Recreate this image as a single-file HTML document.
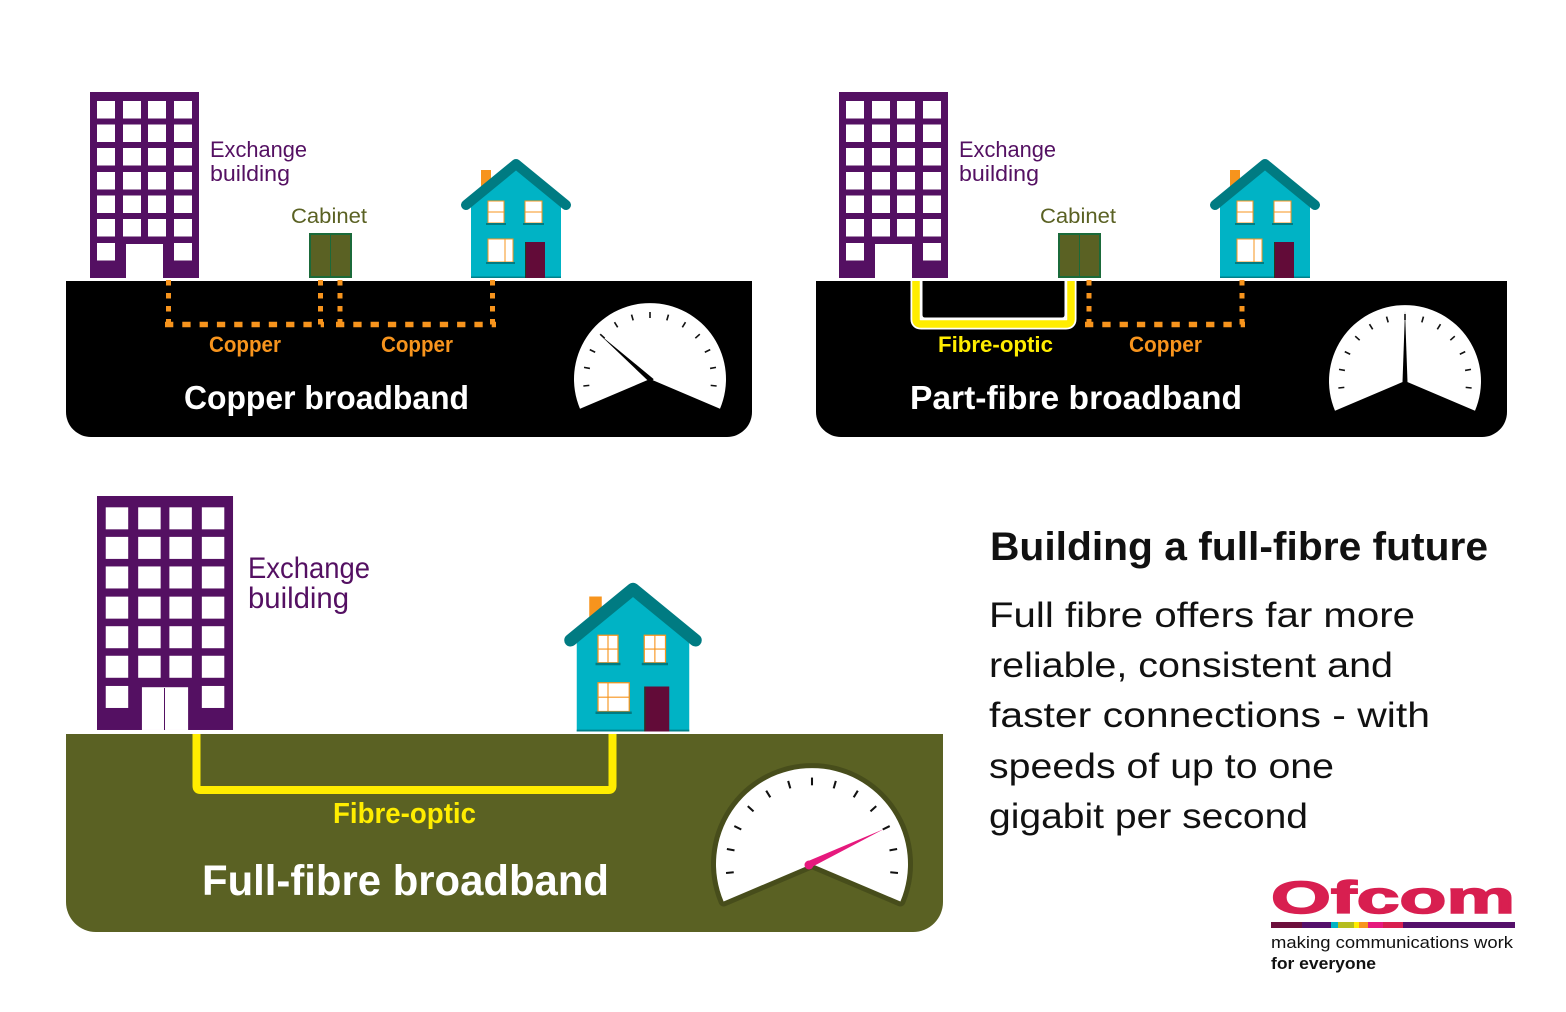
<!DOCTYPE html>
<html><head><meta charset="utf-8"><style>
html,body{margin:0;padding:0;background:#fff;}
svg{display:block;}
text{font-family:"Liberation Sans",sans-serif;}
</style></head><body>
<svg width="1566" height="1012" viewBox="0 0 1566 1012" xmlns="http://www.w3.org/2000/svg">
<rect width="1566" height="1012" fill="#fff"/>
<defs>
 <g id="bld">
  <rect x="0" y="0" width="109" height="186" fill="#541062"/>
  <g fill="#fff">
   <rect x="7" y="9" width="18" height="17.5"/><rect x="33" y="9" width="18" height="17.5"/><rect x="58" y="9" width="18" height="17.5"/><rect x="84" y="9" width="18" height="17.5"/>
   <rect x="7" y="32.5" width="18" height="17.5"/><rect x="33" y="32.5" width="18" height="17.5"/><rect x="58" y="32.5" width="18" height="17.5"/><rect x="84" y="32.5" width="18" height="17.5"/>
   <rect x="7" y="56" width="18" height="17.5"/><rect x="33" y="56" width="18" height="17.5"/><rect x="58" y="56" width="18" height="17.5"/><rect x="84" y="56" width="18" height="17.5"/>
   <rect x="7" y="80" width="18" height="17.5"/><rect x="33" y="80" width="18" height="17.5"/><rect x="58" y="80" width="18" height="17.5"/><rect x="84" y="80" width="18" height="17.5"/>
   <rect x="7" y="103.5" width="18" height="17.5"/><rect x="33" y="103.5" width="18" height="17.5"/><rect x="58" y="103.5" width="18" height="17.5"/><rect x="84" y="103.5" width="18" height="17.5"/>
   <rect x="7" y="127" width="18" height="17.5"/><rect x="33" y="127" width="18" height="17.5"/><rect x="58" y="127" width="18" height="17.5"/><rect x="84" y="127" width="18" height="17.5"/>
   <rect x="7" y="151" width="18" height="17.5"/><rect x="84" y="151" width="18" height="17.5"/>
   <rect x="36" y="152" width="37" height="34"/>
  </g>
 </g>
 <g id="house">
  <rect x="-35" y="10" width="10" height="25" fill="#f7941d"/>
  <polygon points="0,5 -45,41 -45,118 45,118 45,41" fill="#00b3c5"/>
  <polyline points="-50,45 0,4 50,45" fill="none" stroke="#007b82" stroke-width="10" stroke-linecap="round" stroke-linejoin="round"/>
  <rect x="-45" y="116.5" width="90" height="1.5" fill="#00808a"/>
  <rect x="-28" y="41" width="16" height="22" fill="#fff" stroke="#f7941d" stroke-width="1"/>
  <rect x="9" y="41" width="17" height="22" fill="#fff" stroke="#f7941d" stroke-width="1"/>
  <rect x="-30" y="63" width="20" height="2" fill="#007b82"/>
  <rect x="7" y="63" width="21" height="2" fill="#007b82"/>
  <rect x="-28" y="79" width="25" height="23" fill="#fff" stroke="#f7941d" stroke-width="1"/>
  <rect x="-30" y="102" width="29" height="2" fill="#007b82"/>
  <rect x="9" y="82" width="20" height="36" fill="#620b38"/>
  <rect x="9" y="82" width="1" height="36" fill="#2a3a20"/>
 </g>
 <g id="ticks" stroke="#111" stroke-width="1.6">
  <line x1="61" y1="0" x2="67" y2="0" transform="rotate(6)"/>
  <line x1="61" y1="0" x2="67" y2="0" transform="rotate(-10)"/>
  <line x1="61" y1="0" x2="67" y2="0" transform="rotate(-26)"/>
  <line x1="61" y1="0" x2="67" y2="0" transform="rotate(-42)"/>
  <line x1="61" y1="0" x2="67" y2="0" transform="rotate(-58)"/>
  <line x1="61" y1="0" x2="67" y2="0" transform="rotate(-74)"/>
  <line x1="61" y1="0" x2="67" y2="0" transform="rotate(-90)"/>
  <line x1="61" y1="0" x2="67" y2="0" transform="rotate(-106)"/>
  <line x1="61" y1="0" x2="67" y2="0" transform="rotate(-122)"/>
  <line x1="61" y1="0" x2="67" y2="0" transform="rotate(-138)"/>
  <line x1="61" y1="0" x2="67" y2="0" transform="rotate(-154)"/>
  <line x1="61" y1="0" x2="67" y2="0" transform="rotate(-170)"/>
  <line x1="61" y1="0" x2="67" y2="0" transform="rotate(-186)"/>
 </g>
</defs>

<path d="M66,281 H752 V412 A25 25 0 0 1 727 437 H91 A25 25 0 0 1 66 412 Z" fill="#000"/>
<use href="#bld" transform="translate(90,92)"/>
<text x="210" y="157" font-size="22" fill="#541062" textLength="97" lengthAdjust="spacingAndGlyphs">Exchange</text>
<text x="210" y="181" font-size="22" fill="#541062" textLength="80" lengthAdjust="spacingAndGlyphs">building</text>
<text x="291" y="223" font-size="21" fill="#5a6123" textLength="76" lengthAdjust="spacingAndGlyphs">Cabinet</text>
<rect x="310" y="234" width="41" height="43" fill="#5a6123" stroke="#1b6a3a" stroke-width="2"/>
<line x1="330.5" y1="234" x2="330.5" y2="277" stroke="#1b6a3a" stroke-width="1"/>
<use href="#house" transform="translate(516,160)"/>
<g stroke="#f7941d" stroke-width="1">
 <line x1="-28" y1="52" x2="-12" y2="52" transform="translate(516,160)"/>
 <line x1="9" y1="52" x2="26" y2="52" transform="translate(516,160)"/>
 <line x1="-11" y1="79" x2="-11" y2="102" transform="translate(516,160)"/>
</g>
<g stroke="#f7941d" fill="none">
 <path d="M168.5,280 V327" stroke-width="5" stroke-dasharray="5.5 7.5"/>
 <path d="M320.5,280 V327" stroke-width="5" stroke-dasharray="5.5 7.5"/>
 <path d="M165,324.5 H324" stroke-width="5.5" stroke-dasharray="8.3 9"/>
 <path d="M340,280 V327" stroke-width="5" stroke-dasharray="5.5 7.5"/>
 <path d="M492.5,280 V327" stroke-width="5" stroke-dasharray="5.5 7.5"/>
 <path d="M336,324.5 H496" stroke-width="5.5" stroke-dasharray="8.3 9"/>
</g>
<text x="209" y="352" font-size="22" font-weight="bold" fill="#f7941d" textLength="72" lengthAdjust="spacingAndGlyphs">Copper</text>
<text x="381" y="352" font-size="22" font-weight="bold" fill="#f7941d" textLength="72" lengthAdjust="spacingAndGlyphs">Copper</text>
<text x="184" y="409" font-size="33" font-weight="bold" fill="#fff" textLength="285" lengthAdjust="spacingAndGlyphs">Copper broadband</text>
<path d="M650,379 L580,408.7 A76 76 0 1 1 720,408.7 Z" fill="#fff"/>
<use href="#ticks" transform="translate(650,379)"/>
<polygon points="599,334 653.7,379.1 650.3,382.9" fill="#000"/>

<path d="M816,281 H1507 V412 A25 25 0 0 1 1482 437 H841 A25 25 0 0 1 816 412 Z" fill="#000"/>
<use href="#bld" transform="translate(839,92)"/>
<text x="959" y="157" font-size="22" fill="#541062" textLength="97" lengthAdjust="spacingAndGlyphs">Exchange</text>
<text x="959" y="181" font-size="22" fill="#541062" textLength="80" lengthAdjust="spacingAndGlyphs">building</text>
<text x="1040" y="223" font-size="21" fill="#5a6123" textLength="76" lengthAdjust="spacingAndGlyphs">Cabinet</text>
<rect x="1059" y="234" width="41" height="43" fill="#5a6123" stroke="#1b6a3a" stroke-width="2"/>
<line x1="1079.5" y1="234" x2="1079.5" y2="277" stroke="#1b6a3a" stroke-width="1"/>
<use href="#house" transform="translate(1265,160)"/>
<g stroke="#f7941d" stroke-width="1" transform="translate(1265,160)">
 <line x1="-28" y1="52" x2="-12" y2="52"/>
 <line x1="9" y1="52" x2="26" y2="52"/>
 <line x1="-11" y1="79" x2="-11" y2="102"/>
</g>
<path d="M916,281 V319 Q916,324 921,324 H1066 Q1071,324 1071,319 V281" fill="none" stroke="#fff" stroke-width="11"/>
<path d="M916,281 V319 Q916,324 921,324 H1066 Q1071,324 1071,319 V281" fill="none" stroke="#ffed00" stroke-width="7.5"/>
<path d="M921.5,281 V315 Q921.5,318.5 925,318.5 H1062 Q1065.5,318.5 1065.5,315 V281" fill="none" stroke="#fff" stroke-width="2"/>
<g stroke="#f7941d" fill="none">
 <path d="M1089,280 V327" stroke-width="5" stroke-dasharray="5.5 7.5"/>
 <path d="M1242,280 V327" stroke-width="5" stroke-dasharray="5.5 7.5"/>
 <path d="M1085,324.5 H1245" stroke-width="5.5" stroke-dasharray="8.3 9"/>
</g>
<text x="938" y="352" font-size="22" font-weight="bold" fill="#ffed00" textLength="115" lengthAdjust="spacingAndGlyphs">Fibre-optic</text>
<text x="1129" y="352" font-size="22" font-weight="bold" fill="#f7941d" textLength="73" lengthAdjust="spacingAndGlyphs">Copper</text>
<text x="910" y="409" font-size="33" font-weight="bold" fill="#fff" textLength="332" lengthAdjust="spacingAndGlyphs">Part-fibre broadband</text>
<path d="M1405,381 L1335,410.7 A76 76 0 1 1 1475,410.7 Z" fill="#fff"/>
<use href="#ticks" transform="translate(1405,381)"/>
<polygon points="1405,311 1407.5,382 1402.5,382" fill="#000"/>

<path d="M66,734 H943 V902 A30 30 0 0 1 913 932 H96 A30 30 0 0 1 66 902 Z" fill="#5a6123"/>
<use href="#bld" transform="translate(97,496) scale(1.248,1.258)"/>
<line x1="164.5" y1="688" x2="164.5" y2="730" stroke="#541062" stroke-width="1"/>
<text x="248" y="578" font-size="30" fill="#541062" textLength="122" lengthAdjust="spacingAndGlyphs">Exchange</text>
<text x="248" y="608" font-size="30" fill="#541062" textLength="101" lengthAdjust="spacingAndGlyphs">building</text>
<use href="#house" transform="translate(633,584) scale(1.25)"/>
<g stroke="#f7941d" stroke-width="0.9" transform="translate(633,584) scale(1.25)">
 <line x1="-28" y1="52" x2="-12" y2="52"/>
 <line x1="-20" y1="41" x2="-20" y2="63"/>
 <line x1="9" y1="52" x2="26" y2="52"/>
 <line x1="17.5" y1="41" x2="17.5" y2="63"/>
 <line x1="-20" y1="79" x2="-20" y2="102"/>
 <line x1="-28" y1="90.5" x2="-3" y2="90.5"/>
</g>
<path d="M196.5,734 V786 Q196.5,790 200.5,790 H608.5 Q612.5,790 612.5,786 V734" fill="none" stroke="#ffed00" stroke-width="8"/>
<text x="333" y="823" font-size="29" font-weight="bold" fill="#ffed00" textLength="143" lengthAdjust="spacingAndGlyphs">Fibre-optic</text>
<text x="202" y="895" font-size="43" font-weight="bold" fill="#fff" textLength="407" lengthAdjust="spacingAndGlyphs">Full-fibre broadband</text>
<path d="M812,864 L723.6,901.5 A96 96 0 1 1 900.4,901.5 Z" fill="#fff" stroke="#474d1b" stroke-width="10" stroke-linejoin="round"/>
<path d="M812,864 L723.6,901.5 A96 96 0 1 1 900.4,901.5 Z" fill="#fff"/>
<use href="#ticks" transform="translate(812,864) scale(1.29)"/>
<polygon points="884,829 809.5,868.2 806.5,861.8" fill="#e6197d"/>
<circle cx="809" cy="865" r="4.5" fill="#e6197d"/>

<text x="990" y="560" font-size="40" font-weight="bold" fill="#111" textLength="498" lengthAdjust="spacingAndGlyphs">Building a full-fibre future</text>
<g font-size="35" fill="#111">
 <text x="989" y="627" textLength="426" lengthAdjust="spacingAndGlyphs">Full fibre offers far more</text>
 <text x="989" y="677" textLength="404" lengthAdjust="spacingAndGlyphs">reliable, consistent and</text>
 <text x="989" y="727" textLength="441" lengthAdjust="spacingAndGlyphs">faster connections - with</text>
 <text x="989" y="778" textLength="345" lengthAdjust="spacingAndGlyphs">speeds of up to one</text>
 <text x="989" y="828" textLength="319" lengthAdjust="spacingAndGlyphs">gigabit per second</text>
</g>

<text x="1271" y="913" font-size="45" font-weight="bold" fill="#d81f50" stroke="#d81f50" stroke-width="1.5" textLength="244" lengthAdjust="spacingAndGlyphs">Ofcom</text>
<rect x="1271" y="922" width="31" height="6" fill="#6d0f3c"/>
<rect x="1302" y="922" width="29" height="6" fill="#55106a"/>
<rect x="1331" y="922" width="7" height="6" fill="#00b3c5"/>
<rect x="1338" y="922" width="16" height="6" fill="#b5bd1f"/>
<rect x="1354" y="922" width="5" height="6" fill="#ffed00"/>
<rect x="1359" y="922" width="9" height="6" fill="#f7941d"/>
<rect x="1368" y="922" width="15" height="6" fill="#e6197d"/>
<rect x="1383" y="922" width="20" height="6" fill="#d81f50"/>
<rect x="1403" y="922" width="112" height="6" fill="#55106a"/>
<text x="1271" y="948" font-size="17" fill="#111" textLength="242" lengthAdjust="spacingAndGlyphs">making communications work</text>
<text x="1271" y="969" font-size="17" font-weight="bold" fill="#111" textLength="105" lengthAdjust="spacingAndGlyphs">for everyone</text>
</svg>
</body></html>
